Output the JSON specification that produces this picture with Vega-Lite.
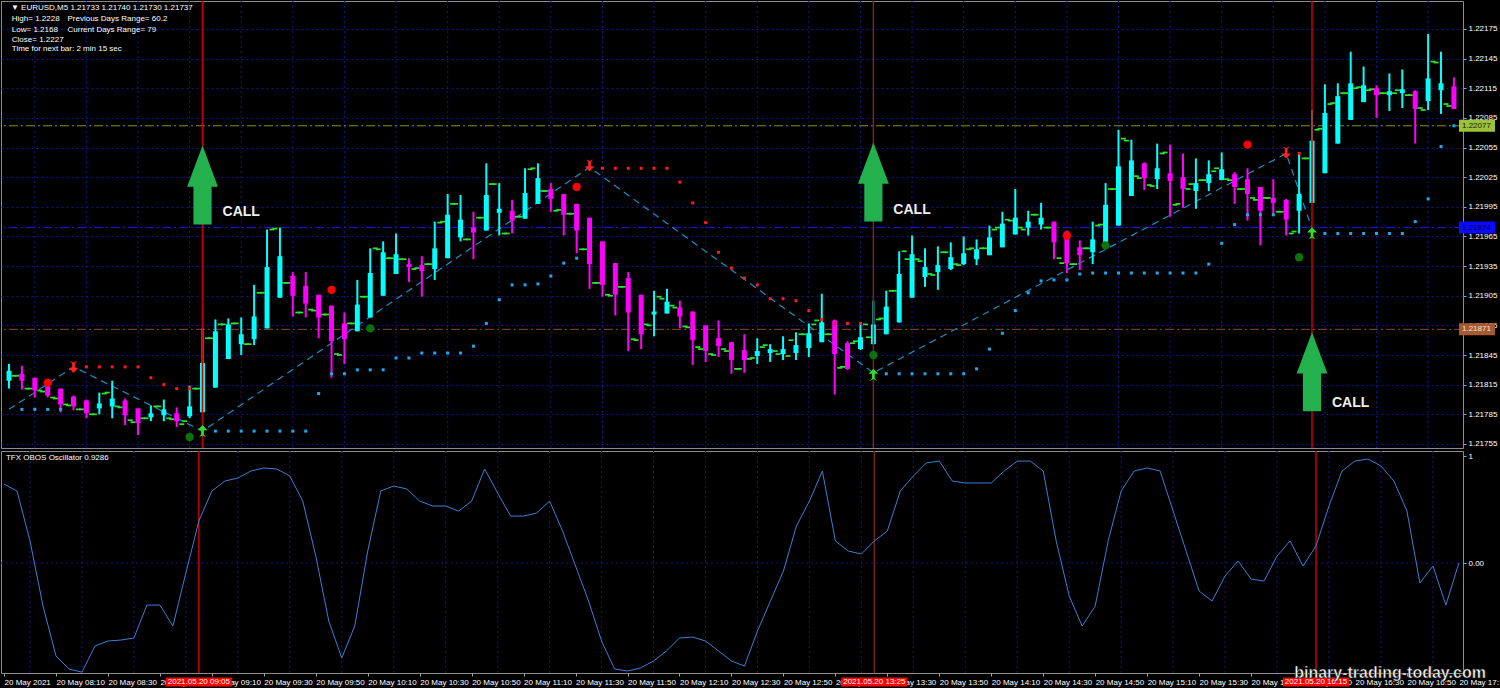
{
"$schema":"https://vega.github.io/schema/vega-lite/v6.json",
"background":"#000000","padding":0,"spacing":3,"bounds":"flush",
"config":{"view":{"stroke":"#8c8c8c","strokeWidth":1},"text":{"font":"Liberation Sans"}},
"datasets":{
"bars":[
{"t":"2021-05-20T07:50Z","o":1.21819,"h":1.21836,"l":1.21811,"c":1.21829,"v":0.738,"b":1.21824},
{"t":"2021-05-20T07:55Z","o":1.21826,"h":1.21834,"l":1.21810,"c":1.21819,"v":0.673,"cs":1.21790,"a":1.21824,"b":1.21811},
{"t":"2021-05-20T08:00Z","o":1.21822,"h":1.21822,"l":1.21802,"c":1.21809,"v":0.206,"cs":1.21790,"a":1.21811,"b":1.21809},
{"t":"2021-05-20T08:05Z","o":1.21814,"h":1.21819,"l":1.21802,"c":1.21804,"v":-0.402,"cs":1.21790,"a":1.21808,"b":1.21802},
{"t":"2021-05-20T08:10Z","o":1.21811,"h":1.21811,"l":1.21787,"c":1.21795,"v":-0.869,"cs":1.21790,"a":1.21801,"b":1.21795},
{"t":"2021-05-20T08:15Z","o":1.21803,"h":1.21804,"l":1.21789,"c":1.21793,"v":-0.991,"a":1.21794,"b":1.21790},
{"t":"2021-05-20T08:20Z","o":1.21799,"h":1.21800,"l":1.21781,"c":1.21786,"v":-1.02,"rs":1.21833,"a":1.21790,"b":1.21785},
{"t":"2021-05-20T08:25Z","o":1.21791,"h":1.21807,"l":1.21785,"c":1.21796,"v":-0.776,"rs":1.21833,"a":1.21785,"b":1.21806},
{"t":"2021-05-20T08:30Z","o":1.21793,"h":1.21819,"l":1.21781,"c":1.21801,"v":-0.729,"rs":1.21833,"a":1.21807,"b":1.21793},
{"t":"2021-05-20T08:35Z","o":1.21799,"h":1.21801,"l":1.21774,"c":1.21784,"v":-0.720,"rs":1.21833,"a":1.21792,"b":1.21779},
{"t":"2021-05-20T08:40Z","o":1.21791,"h":1.21791,"l":1.21764,"c":1.21776,"v":-0.701,"rs":1.21833,"a":1.21777,"b":1.21781},
{"t":"2021-05-20T08:45Z","o":1.21782,"h":1.21794,"l":1.21778,"c":1.21786,"v":-0.393,"rs":1.21822,"a":1.21781,"b":1.21793},
{"t":"2021-05-20T08:50Z","o":1.21784,"h":1.21800,"l":1.21778,"c":1.21790,"v":-0.393,"rs":1.21815,"a":1.21793,"b":1.21781},
{"t":"2021-05-20T08:55Z","o":1.21786,"h":1.21792,"l":1.21772,"c":1.21778,"v":-0.589,"rs":1.21811,"a":1.21780,"b":1.21775},
{"t":"2021-05-20T09:00Z","o":1.21783,"h":1.21814,"l":1.21781,"c":1.21793,"v":-0.093,"rs":1.21811,"a":1.21778,"b":1.21811},
{"t":"2021-05-20T09:05Z","o":1.21787,"h":1.21872,"l":1.21787,"c":1.21837,"v":0.393,"a":1.21811,"b":1.21862},
{"t":"2021-05-20T09:10Z","o":1.21812,"h":1.21881,"l":1.21812,"c":1.21869,"v":0.673,"cs":1.21768,"a":1.21862,"b":1.21876},
{"t":"2021-05-20T09:15Z","o":1.21841,"h":1.21882,"l":1.21841,"c":1.21876,"v":0.766,"cs":1.21768,"a":1.21876,"b":1.21877},
{"t":"2021-05-20T09:20Z","o":1.21856,"h":1.21883,"l":1.21845,"c":1.21866,"v":0.794,"cs":1.21768,"a":1.21877,"b":1.21856},
{"t":"2021-05-20T09:25Z","o":1.21861,"h":1.21916,"l":1.21855,"c":1.21884,"v":0.860,"cs":1.21768,"a":1.21856,"b":1.21908},
{"t":"2021-05-20T09:30Z","o":1.21872,"h":1.21972,"l":1.21872,"c":1.21934,"v":0.888,"cs":1.21768,"a":1.21908,"b":1.21972},
{"t":"2021-05-20T09:35Z","o":1.21903,"h":1.21974,"l":1.21903,"c":1.21945,"v":0.879,"cs":1.21768,"a":1.21973,"b":1.21918},
{"t":"2021-05-20T09:40Z","o":1.21925,"h":1.21929,"l":1.21884,"c":1.21905,"v":0.813,"cs":1.21768,"a":1.21918,"b":1.21888},
{"t":"2021-05-20T09:45Z","o":1.21915,"h":1.21929,"l":1.21883,"c":1.21897,"v":0.579,"cs":1.21768,"a":1.21888,"b":1.21891},
{"t":"2021-05-20T09:50Z","o":1.21906,"h":1.21906,"l":1.21862,"c":1.21883,"v":0.065,"cs":1.21806,"a":1.21890,"b":1.21886},
{"t":"2021-05-20T09:55Z","o":1.21895,"h":1.21895,"l":1.21822,"c":1.21859,"v":-0.542,"cs":1.21826,"a":1.21886,"b":1.21846},
{"t":"2021-05-20T10:00Z","o":1.21877,"h":1.21888,"l":1.21836,"c":1.21861,"v":-0.888,"cs":1.21826,"a":1.21845,"b":1.21877},
{"t":"2021-05-20T10:05Z","o":1.21869,"h":1.21921,"l":1.21869,"c":1.21896,"v":-0.589,"cs":1.21830,"a":1.21877,"b":1.21904},
{"t":"2021-05-20T10:10Z","o":1.21883,"h":1.21953,"l":1.21883,"c":1.21928,"v":0.112,"cs":1.21830,"a":1.21904,"b":1.21953},
{"t":"2021-05-20T10:15Z","o":1.21905,"h":1.21960,"l":1.21905,"c":1.21949,"v":0.673,"cs":1.21830,"a":1.21952,"b":1.21943},
{"t":"2021-05-20T10:20Z","o":1.21927,"h":1.21968,"l":1.21927,"c":1.21947,"v":0.720,"cs":1.21842,"a":1.21943,"b":1.21942},
{"t":"2021-05-20T10:25Z","o":1.21937,"h":1.21943,"l":1.21919,"c":1.21934,"v":0.692,"cs":1.21842,"a":1.21942,"b":1.21932},
{"t":"2021-05-20T10:30Z","o":1.21936,"h":1.21945,"l":1.21904,"c":1.21930,"v":0.579,"cs":1.21847,"a":1.21933,"b":1.21937},
{"t":"2021-05-20T10:35Z","o":1.21932,"h":1.21980,"l":1.21921,"c":1.21953,"v":0.533,"cs":1.21847,"a":1.21937,"b":1.21979},
{"t":"2021-05-20T10:40Z","o":1.21943,"h":1.22008,"l":1.21943,"c":1.21987,"v":0.533,"cs":1.21847,"a":1.21980,"b":1.21998},
{"t":"2021-05-20T10:45Z","o":1.21964,"h":1.22007,"l":1.21960,"c":1.21982,"v":0.486,"cs":1.21847,"a":1.21998,"b":1.21962},
{"t":"2021-05-20T10:50Z","o":1.21974,"h":1.21990,"l":1.21942,"c":1.21969,"v":0.579,"cs":1.21854,"a":1.21962,"b":1.21984},
{"t":"2021-05-20T10:55Z","o":1.21971,"h":1.22039,"l":1.21971,"c":1.22007,"v":0.879,"cs":1.21877,"a":1.21984,"b":1.22018},
{"t":"2021-05-20T11:00Z","o":1.21989,"h":1.22019,"l":1.21966,"c":1.21993,"v":0.654,"cs":1.21901,"a":1.22018,"b":1.21968},
{"t":"2021-05-20T11:05Z","o":1.21991,"h":1.22002,"l":1.21968,"c":1.21981,"v":0.439,"cs":1.21916,"a":1.21968,"b":1.21985},
{"t":"2021-05-20T11:10Z","o":1.21983,"h":1.22034,"l":1.21983,"c":1.22009,"v":0.439,"cs":1.21916,"a":1.21985,"b":1.22033},
{"t":"2021-05-20T11:15Z","o":1.21998,"h":1.22039,"l":1.21998,"c":1.22024,"v":0.467,"cs":1.21917,"a":1.22034,"b":1.22011},
{"t":"2021-05-20T11:20Z","o":1.22013,"h":1.22019,"l":1.21990,"c":1.22003,"v":0.579,"cs":1.21925,"a":1.22011,"b":1.21991},
{"t":"2021-05-20T11:25Z","o":1.22008,"h":1.22008,"l":1.21966,"c":1.21987,"v":0.299,"cs":1.21938,"a":1.21992,"b":1.21988},
{"t":"2021-05-20T11:30Z","o":1.21998,"h":1.21998,"l":1.21948,"c":1.21971,"v":-0.028,"cs":1.21943,"a":1.21988,"b":1.21952},
{"t":"2021-05-20T11:35Z","o":1.21984,"h":1.21984,"l":1.21912,"c":1.21937,"v":-0.355,"a":1.21952,"b":1.21918},
{"t":"2021-05-20T11:40Z","o":1.21960,"h":1.21960,"l":1.21904,"c":1.21916,"v":-0.729,"rs":1.22034,"a":1.21918,"b":1.21906},
{"t":"2021-05-20T11:45Z","o":1.21938,"h":1.21938,"l":1.21885,"c":1.21906,"v":-0.991,"rs":1.22034,"a":1.21905,"b":1.21914},
{"t":"2021-05-20T11:50Z","o":1.21923,"h":1.21929,"l":1.21849,"c":1.21888,"v":-1.009,"rs":1.22034,"a":1.21914,"b":1.21861},
{"t":"2021-05-20T11:55Z","o":1.21906,"h":1.21906,"l":1.21851,"c":1.21866,"v":-0.981,"rs":1.22034,"a":1.21860,"b":1.21876},
{"t":"2021-05-20T12:00Z","o":1.21886,"h":1.21910,"l":1.21864,"c":1.21889,"v":-0.916,"rs":1.22034,"a":1.21875,"b":1.21904},
{"t":"2021-05-20T12:05Z","o":1.21887,"h":1.21912,"l":1.21887,"c":1.21899,"v":-0.822,"rs":1.22034,"a":1.21902,"b":1.21895},
{"t":"2021-05-20T12:10Z","o":1.21893,"h":1.21900,"l":1.21872,"c":1.21884,"v":-0.701,"rs":1.22020,"a":1.21893,"b":1.21874},
{"t":"2021-05-20T12:15Z","o":1.21889,"h":1.21889,"l":1.21835,"c":1.21860,"v":-0.692,"rs":1.21999,"a":1.21873,"b":1.21853},
{"t":"2021-05-20T12:20Z","o":1.21875,"h":1.21875,"l":1.21838,"c":1.21849,"v":-0.729,"rs":1.21979,"a":1.21851,"b":1.21846},
{"t":"2021-05-20T12:25Z","o":1.21862,"h":1.21880,"l":1.21843,"c":1.21854,"v":-0.822,"rs":1.21949,"a":1.21845,"b":1.21851},
{"t":"2021-05-20T12:30Z","o":1.21858,"h":1.21858,"l":1.21826,"c":1.21840,"v":-0.916,"rs":1.21933,"a":1.21849,"b":1.21831},
{"t":"2021-05-20T12:35Z","o":1.21850,"h":1.21866,"l":1.21827,"c":1.21840,"v":-0.963,"rs":1.21923,"a":1.21831,"b":1.21841},
{"t":"2021-05-20T12:40Z","o":1.21844,"h":1.21862,"l":1.21836,"c":1.21849,"v":-0.636,"rs":1.21916,"a":1.21842,"b":1.21853},
{"t":"2021-05-20T12:45Z","o":1.21847,"h":1.21856,"l":1.21838,"c":1.21851,"v":-0.355,"rs":1.21902,"a":1.21855,"b":1.21849},
{"t":"2021-05-20T12:50Z","o":1.21846,"h":1.21864,"l":1.21840,"c":1.21851,"v":-0.075,"rs":1.21902,"a":1.21846,"b":1.21844},
{"t":"2021-05-20T12:55Z","o":1.21847,"h":1.21868,"l":1.21840,"c":1.21855,"v":0.346,"rs":1.21900,"a":1.21860,"b":1.21866},
{"t":"2021-05-20T13:00Z","o":1.21852,"h":1.21877,"l":1.21843,"c":1.21867,"v":0.579,"rs":1.21890,"a":1.21866,"b":1.21876},
{"t":"2021-05-20T13:05Z","o":1.21858,"h":1.21907,"l":1.21858,"c":1.21878,"v":0.860,"rs":1.21881,"a":1.21880,"b":1.21866},
{"t":"2021-05-20T13:10Z","o":1.21880,"h":1.21881,"l":1.21805,"c":1.21846,"v":0.206,"rs":1.21877,"a":1.21866,"b":1.21832},
{"t":"2021-05-20T13:15Z","o":1.21857,"h":1.21859,"l":1.21830,"c":1.21831,"v":0.112,"rs":1.21877,"a":1.21833,"b":1.21857},
{"t":"2021-05-20T13:20Z","o":1.21851,"h":1.21878,"l":1.21850,"c":1.21863,"v":0.084,"rs":1.21877,"a":1.21859,"b":1.21876},
{"t":"2021-05-20T13:25Z","o":1.21856,"h":1.21900,"l":1.21856,"c":1.21876,"v":0.206,"a":1.21863,"b":1.21881},
{"t":"2021-05-20T13:30Z","o":1.21866,"h":1.21910,"l":1.21866,"c":1.21894,"v":0.299,"cs":1.21826,"a":1.21882,"b":1.21910},
{"t":"2021-05-20T13:35Z","o":1.21878,"h":1.21950,"l":1.21878,"c":1.21927,"v":0.673,"cs":1.21826,"a":1.21910,"b":1.21950},
{"t":"2021-05-20T13:40Z","o":1.21903,"h":1.21966,"l":1.21903,"c":1.21947,"v":0.813,"cs":1.21826,"a":1.21942,"b":1.21942},
{"t":"2021-05-20T13:45Z","o":1.21924,"h":1.21953,"l":1.21914,"c":1.21934,"v":0.935,"cs":1.21826,"a":1.21940,"b":1.21927},
{"t":"2021-05-20T13:50Z","o":1.21929,"h":1.21955,"l":1.21911,"c":1.21936,"v":0.953,"cs":1.21826,"a":1.21926,"b":1.21949},
{"t":"2021-05-20T13:55Z","o":1.21932,"h":1.21959,"l":1.21931,"c":1.21944,"v":0.766,"cs":1.21826,"a":1.21949,"b":1.21937},
{"t":"2021-05-20T14:00Z","o":1.21937,"h":1.21965,"l":1.21936,"c":1.21948,"v":0.748,"cs":1.21826,"a":1.21936,"b":1.21952},
{"t":"2021-05-20T14:05Z","o":1.21942,"h":1.21962,"l":1.21936,"c":1.21952,"v":0.748,"cs":1.21831,"a":1.21953,"b":1.21953},
{"t":"2021-05-20T14:10Z","o":1.21946,"h":1.21976,"l":1.21946,"c":1.21964,"v":0.748,"cs":1.21851,"a":1.21953,"b":1.21972},
{"t":"2021-05-20T14:15Z","o":1.21954,"h":1.21990,"l":1.21954,"c":1.21978,"v":0.860,"cs":1.21867,"a":1.21974,"b":1.21982},
{"t":"2021-05-20T14:20Z","o":1.21967,"h":1.22013,"l":1.21967,"c":1.21984,"v":0.953,"cs":1.21890,"a":1.21981,"b":1.21974},
{"t":"2021-05-20T14:25Z","o":1.21974,"h":1.21991,"l":1.21966,"c":1.21980,"v":0.953,"cs":1.21908,"a":1.21972,"b":1.21987},
{"t":"2021-05-20T14:30Z","o":1.21977,"h":1.21999,"l":1.21972,"c":1.21984,"v":0.860,"cs":1.21920,"a":1.21987,"b":1.21974},
{"t":"2021-05-20T14:35Z","o":1.21980,"h":1.21980,"l":1.21942,"c":1.21959,"v":0.206,"cs":1.21921,"a":1.21974,"b":1.21943},
{"t":"2021-05-20T14:40Z","o":1.21970,"h":1.21971,"l":1.21928,"c":1.21938,"v":-0.308,"cs":1.21921,"a":1.21938,"b":1.21937},
{"t":"2021-05-20T14:45Z","o":1.21954,"h":1.21961,"l":1.21931,"c":1.21946,"v":-0.589,"cs":1.21927,"a":1.21937,"b":1.21953},
{"t":"2021-05-20T14:50Z","o":1.21949,"h":1.21980,"l":1.21937,"c":1.21962,"v":-0.402,"cs":1.21928,"a":1.21953,"b":1.21976},
{"t":"2021-05-20T14:55Z","o":1.21959,"h":1.22019,"l":1.21959,"c":1.21997,"v":0.206,"cs":1.21928,"a":1.21977,"b":1.22013},
{"t":"2021-05-20T15:00Z","o":1.21976,"h":1.22073,"l":1.21976,"c":1.22036,"v":0.673,"cs":1.21928,"a":1.22013,"b":1.22064},
{"t":"2021-05-20T15:05Z","o":1.22006,"h":1.22063,"l":1.22006,"c":1.22042,"v":0.860,"cs":1.21928,"a":1.22062,"b":1.22026},
{"t":"2021-05-20T15:10Z","o":1.22039,"h":1.22040,"l":1.22012,"c":1.22024,"v":0.888,"cs":1.21928,"a":1.22024,"b":1.22017},
{"t":"2021-05-20T15:15Z","o":1.22023,"h":1.22059,"l":1.22013,"c":1.22034,"v":0.860,"cs":1.21928,"a":1.22016,"b":1.22049},
{"t":"2021-05-20T15:20Z","o":1.22029,"h":1.22058,"l":1.21985,"c":1.22021,"v":0.486,"cs":1.21928,"a":1.22050,"b":1.21997},
{"t":"2021-05-20T15:25Z","o":1.22025,"h":1.22049,"l":1.21994,"c":1.22013,"v":0.112,"cs":1.21928,"a":1.21998,"b":1.22013},
{"t":"2021-05-20T15:30Z","o":1.22011,"h":1.22044,"l":1.21993,"c":1.22019,"v":-0.262,"cs":1.21928,"a":1.22018,"b":1.22022},
{"t":"2021-05-20T15:35Z","o":1.22019,"h":1.22042,"l":1.22011,"c":1.22028,"v":-0.355,"cs":1.21937,"a":1.22022,"b":1.22031},
{"t":"2021-05-20T15:40Z","o":1.22022,"h":1.22050,"l":1.22022,"c":1.22033,"v":-0.121,"cs":1.21958,"a":1.22034,"b":1.22023},
{"t":"2021-05-20T15:45Z","o":1.22028,"h":1.22030,"l":1.21998,"c":1.22015,"v":0.019,"cs":1.21977,"a":1.22022,"b":1.22013},
{"t":"2021-05-20T15:50Z","o":1.22023,"h":1.22034,"l":1.21981,"c":1.22008,"v":-0.150,"cs":1.21987,"a":1.22013,"b":1.22004},
{"t":"2021-05-20T15:55Z","o":1.22015,"h":1.22015,"l":1.21956,"c":1.21991,"v":-0.168,"cs":1.21987,"a":1.22002,"b":1.22004},
{"t":"2021-05-20T16:00Z","o":1.22004,"h":1.22023,"l":1.21988,"c":1.21999,"v":0.065,"cs":1.21987,"a":1.22004,"b":1.21990},
{"t":"2021-05-20T16:05Z","o":1.22002,"h":1.22003,"l":1.21966,"c":1.21982,"v":0.206,"a":1.21990,"b":1.21968},
{"t":"2021-05-20T16:10Z","o":1.21991,"h":1.22049,"l":1.21968,"c":1.22008,"v":-0.028,"rs":1.22049,"a":1.21970,"b":1.22044},
{"t":"2021-05-20T16:15Z","o":1.21999,"h":1.22093,"l":1.21999,"c":1.22062,"v":0.159,"a":1.22044,"b":1.22073},
{"t":"2021-05-20T16:20Z","o":1.22029,"h":1.22119,"l":1.22029,"c":1.22090,"v":0.533,"cs":1.21968,"a":1.22074,"b":1.22099},
{"t":"2021-05-20T16:25Z","o":1.22059,"h":1.22120,"l":1.22059,"c":1.22107,"v":0.860,"cs":1.21968,"a":1.22100,"b":1.22110},
{"t":"2021-05-20T16:30Z","o":1.22083,"h":1.22152,"l":1.22083,"c":1.22120,"v":0.953,"cs":1.21968,"a":1.22110,"b":1.22115},
{"t":"2021-05-20T16:35Z","o":1.22101,"h":1.22137,"l":1.22101,"c":1.22118,"v":0.972,"cs":1.21968,"a":1.22116,"b":1.22113},
{"t":"2021-05-20T16:40Z","o":1.22115,"h":1.22118,"l":1.22085,"c":1.22108,"v":0.907,"cs":1.21968,"a":1.22114,"b":1.22110},
{"t":"2021-05-20T16:45Z","o":1.22108,"h":1.22130,"l":1.22092,"c":1.22112,"v":0.766,"cs":1.21968,"a":1.22110,"b":1.22110},
{"t":"2021-05-20T16:50Z","o":1.22110,"h":1.22134,"l":1.22095,"c":1.22114,"v":0.486,"cs":1.21968,"a":1.22113,"b":1.22108},
{"t":"2021-05-20T16:55Z","o":1.22112,"h":1.22113,"l":1.22059,"c":1.22094,"v":-0.187,"cs":1.21980,"a":1.22108,"b":1.22095},
{"t":"2021-05-20T17:00Z","o":1.22102,"h":1.22170,"l":1.22093,"c":1.22125,"v":-0.028,"cs":1.22003,"a":1.22093,"b":1.22142},
{"t":"2021-05-20T17:05Z","o":1.22113,"h":1.22152,"l":1.22089,"c":1.22120,"v":-0.393,"cs":1.22056,"a":1.22141,"b":1.22099},
{"t":"2021-05-20T17:10Z","o":1.22117,"h":1.22126,"l":1.22094,"c":1.22094,"v":0.0,"cs":1.22077,"a":1.22097}
],
"grid":[{"t":"2021-05-20T08:00Z"},{"t":"2021-05-20T08:20Z"},{"t":"2021-05-20T08:40Z"},{"t":"2021-05-20T09:00Z"},{"t":"2021-05-20T09:20Z"},{"t":"2021-05-20T09:40Z"},{"t":"2021-05-20T10:00Z"},{"t":"2021-05-20T10:20Z"},{"t":"2021-05-20T10:40Z"},{"t":"2021-05-20T11:00Z"},{"t":"2021-05-20T11:20Z"},{"t":"2021-05-20T11:40Z"},{"t":"2021-05-20T12:00Z"},{"t":"2021-05-20T12:20Z"},{"t":"2021-05-20T12:40Z"},{"t":"2021-05-20T13:00Z"},{"t":"2021-05-20T13:20Z"},{"t":"2021-05-20T13:40Z"},{"t":"2021-05-20T14:00Z"},{"t":"2021-05-20T14:20Z"},{"t":"2021-05-20T14:40Z"},{"t":"2021-05-20T15:00Z"},{"t":"2021-05-20T15:20Z"},{"t":"2021-05-20T15:40Z"},{"t":"2021-05-20T16:00Z"},{"t":"2021-05-20T16:20Z"},{"t":"2021-05-20T16:40Z"},{"t":"2021-05-20T17:00Z"}],
"vlines":[{"t":"2021-05-20T09:05Z","k":"r","lab":"2021.05.20 09:05"},{"t":"2021-05-20T13:25Z","k":"d","lab":"2021.05.20 13:25"},{"t":"2021-05-20T16:15Z","k":"r","lab":"2021.05.20 16:15"}],
"zig":[{"t":"2021-05-20T07:50Z","p":1.21790},{"t":"2021-05-20T08:15Z","p":1.21833},{"t":"2021-05-20T09:05Z","p":1.21768},{"t":"2021-05-20T11:35Z","p":1.22035},{"t":"2021-05-20T13:25Z","p":1.21827},{"t":"2021-05-20T16:05Z","p":1.22049},{"t":"2021-05-20T16:15Z","p":1.21973}],
"sig":[
{"t":"2021-05-20T08:05Z","p":1.21817,"k":"R"},{"t":"2021-05-20T09:55Z","p":1.21911,"k":"R"},{"t":"2021-05-20T11:30Z","p":1.22015,"k":"R"},{"t":"2021-05-20T14:40Z","p":1.21966,"k":"R"},{"t":"2021-05-20T15:50Z","p":1.22058,"k":"R"},
{"t":"2021-05-20T09:00Z","p":1.21762,"k":"G"},{"t":"2021-05-20T10:10Z","p":1.21872,"k":"G"},{"t":"2021-05-20T13:25Z","p":1.21845,"k":"G"},{"t":"2021-05-20T14:55Z","p":1.21956,"k":"G"},{"t":"2021-05-20T16:10Z","p":1.21944,"k":"G"},
{"t":"2021-05-20T08:15Z","p":1.21833,"k":"D"},{"t":"2021-05-20T11:35Z","p":1.22037,"k":"D"},{"t":"2021-05-20T16:05Z","p":1.22050,"k":"D"},
{"t":"2021-05-20T09:05Z","p":1.21768,"k":"U"},{"t":"2021-05-20T13:25Z","p":1.21825,"k":"U"},{"t":"2021-05-20T16:15Z","p":1.21968,"k":"U"},
{"t":"2021-05-20T09:05Z","p":1.22017,"k":"A"},{"t":"2021-05-20T13:25Z","p":1.22020,"k":"A"},{"t":"2021-05-20T16:15Z","p":1.21828,"k":"A"}],
"calls":[{"t":"2021-05-20T09:05Z","p":1.21990,"txt":"CALL"},{"t":"2021-05-20T13:25Z","p":1.21992,"txt":"CALL"},{"t":"2021-05-20T16:15Z","p":1.21796,"txt":"CALL"}],
"head":[
{"t":"2021-05-20T07:50:45Z","p":1.221963,"txt":"▼  EURUSD,M5  1.21733 1.21740 1.21730 1.21737"},
{"t":"2021-05-20T07:51:05Z","p":1.221851,"txt":"High= 1.2228"},
{"t":"2021-05-20T08:12:40Z","p":1.221851,"txt":"Previous Days Range= 60.2"},
{"t":"2021-05-20T07:51:05Z","p":1.22174,"txt":"Low= 1.2168"},
{"t":"2021-05-20T08:12:40Z","p":1.22174,"txt":"Current Days Range= 79"},
{"t":"2021-05-20T07:51:05Z","p":1.221639,"txt":"Close= 1.2227"},
{"t":"2021-05-20T07:51:05Z","p":1.221548,"txt":"Time for next bar: 2 min 15 sec"}],
"levels":[{"t":"2021-05-20T17:11:35Z","p":1.22077,"k":"a","txt":"1.22077"},{"t":"2021-05-20T17:11:35Z","p":1.21974,"k":"b","txt":"1.21974"},{"t":"2021-05-20T17:11:35Z","p":1.21871,"k":"c","txt":"1.21871"}],
"notes":[{"t":"2021-05-20T07:50:45Z","v":0.981,"txt":"TFX OBOS Oscillator 0.9286"}],
"mark":[{"t":"2021-05-20T16:43:30Z","v":-1.03,"txt":"binary-trading-today.com"}]
},
"vconcat":[
{
"width":1462,"height":447,
"layer":[
{"data":{"name":"grid"},"mark":{"type":"rule","color":"#16168a","strokeDash":[2,3],"strokeWidth":1,"clip":true},
 "encoding":{"x":{"field":"t","type":"temporal","scale":{"type":"utc","domain":[1621496930000,1621530695000]},"axis":null}}},
{"data":{"name":"levels"},"mark":{"type":"rule","strokeDash":[9,3,2,3],"strokeWidth":1,"clip":true},
 "encoding":{"y":{"field":"p","type":"quantitative","scale":{"domain":[1.217509,1.222033],"zero":false,"nice":false},
   "axis":{"orient":"right","values":[1.21755,1.21785,1.21815,1.21845,1.21875,1.21905,1.21935,1.21965,1.21995,1.22025,1.22055,1.22085,1.22115,1.22145,1.22175],"tickCount":30,"format":".5f","grid":true,"gridColor":"#16168a","gridDash":[2,3],"labelColor":"#ffffff","labelFont":"Liberation Sans","labelFontSize":8,"tickColor":"#a0a0a0","tickSize":3,"labelPadding":2,"domain":false,"title":null,"labelOverlap":false,"labelFlush":false}},
  "color":{"condition":[{"test":"datum.k == 'a'","value":"#8e8e10"},{"test":"datum.k == 'b'","value":"#1414ff"}],"value":"#8b4a2b"}}},
{"data":{"name":"zig"},"mark":{"type":"line","color":"#1b8fc4","strokeDash":[7,5],"strokeWidth":1.2},
 "encoding":{"x":{"field":"t","type":"temporal","scale":{"type":"utc","domain":[1621496930000,1621530695000]},"axis":null},
  "y":{"field":"p","type":"quantitative","scale":{"domain":[1.217509,1.222033],"zero":false,"nice":false}}}},
{"data":{"name":"bars"},"mark":{"type":"point","filled":true,"size":25,"opacity":1,"color":"#2fe02f","xOffset":-5,"shape":"M-1,-0.35L1,-0.35L1,0.35L-1,0.35Z"},
 "encoding":{"x":{"field":"t","type":"temporal","scale":{"type":"utc","domain":[1621496930000,1621530695000]},"axis":null},
  "y":{"field":"a","type":"quantitative","scale":{"domain":[1.217509,1.222033],"zero":false,"nice":false}}}},
{"data":{"name":"bars"},"mark":{"type":"point","filled":true,"size":25,"opacity":1,"color":"#2fe02f","xOffset":5,"shape":"M-1,-0.35L1,-0.35L1,0.35L-1,0.35Z"},
 "encoding":{"x":{"field":"t","type":"temporal","scale":{"type":"utc","domain":[1621496930000,1621530695000]},"axis":null},
  "y":{"field":"b","type":"quantitative","scale":{"domain":[1.217509,1.222033],"zero":false,"nice":false}}}},
{"data":{"name":"bars"},"mark":{"type":"rule","strokeWidth":2},
 "encoding":{"x":{"field":"t","type":"temporal","scale":{"type":"utc","domain":[1621496930000,1621530695000]},"axis":null},
  "y":{"field":"l","type":"quantitative","scale":{"domain":[1.217509,1.222033],"zero":false,"nice":false}},
  "y2":{"field":"h"},
  "color":{"condition":{"test":"datum.c >= datum.o","value":"#00ffff"},"value":"#ff00ff"}}},
{"data":{"name":"bars"},"mark":{"type":"bar","width":5},
 "encoding":{"x":{"field":"t","type":"temporal","scale":{"type":"utc","domain":[1621496930000,1621530695000]},"axis":null},
  "y":{"field":"o","type":"quantitative","scale":{"domain":[1.217509,1.222033],"zero":false,"nice":false}},
  "y2":{"field":"c"},
  "color":{"condition":{"test":"datum.c >= datum.o","value":"#00ffff"},"value":"#ff00ff"}}},
{"data":{"name":"vlines"},"mark":{"type":"rule","strokeWidth":1.5,"clip":true},
 "encoding":{"x":{"field":"t","type":"temporal","scale":{"type":"utc","domain":[1621496930000,1621530695000]},"axis":null},
  "color":{"condition":{"test":"datum.k == 'd'","value":"#7a2222"},"value":"#cc0000"}}},
{"data":{"name":"bars"},"mark":{"type":"point","filled":true,"shape":"square","size":9,"color":"#ff1a1a","opacity":1},
 "encoding":{"x":{"field":"t","type":"temporal","scale":{"type":"utc","domain":[1621496930000,1621530695000]},"axis":null},
  "y":{"field":"rs","type":"quantitative","scale":{"domain":[1.217509,1.222033],"zero":false,"nice":false}}}},
{"data":{"name":"bars"},"mark":{"type":"point","filled":true,"shape":"square","size":9,"color":"#1ea8f0","opacity":1},
 "encoding":{"x":{"field":"t","type":"temporal","scale":{"type":"utc","domain":[1621496930000,1621530695000]},"axis":null},
  "y":{"field":"cs","type":"quantitative","scale":{"domain":[1.217509,1.222033],"zero":false,"nice":false}}}},
{"data":{"name":"sig"},"transform":[{"filter":"datum.k == 'R' || datum.k == 'G'"}],"mark":{"type":"point","filled":true,"size":70,"opacity":1},
 "encoding":{"x":{"field":"t","type":"temporal","scale":{"type":"utc","domain":[1621496930000,1621530695000]},"axis":null},
  "y":{"field":"p","type":"quantitative","scale":{"domain":[1.217509,1.222033],"zero":false,"nice":false}},
  "color":{"condition":{"test":"datum.k == 'R'","value":"#ff0000"},"value":"#0b730b"}}},
{"data":{"name":"sig"},"transform":[{"filter":"datum.k == 'D'"}],"mark":{"type":"point","filled":true,"size":150,"opacity":1,"color":"#ff2020","shape":"M0,1L-0.8,0.15L-0.22,0.15L-0.22,-0.55L-0.6,-1L0,-0.7L0.6,-1L0.22,-0.55L0.22,0.15L0.8,0.15Z"},
 "encoding":{"x":{"field":"t","type":"temporal","scale":{"type":"utc","domain":[1621496930000,1621530695000]},"axis":null},
  "y":{"field":"p","type":"quantitative","scale":{"domain":[1.217509,1.222033],"zero":false,"nice":false}}}},
{"data":{"name":"sig"},"transform":[{"filter":"datum.k == 'U'"}],"mark":{"type":"point","filled":true,"size":150,"opacity":1,"color":"#33dd22","shape":"M0,-1L-0.8,-0.15L-0.22,-0.15L-0.22,0.55L-0.6,1L0,0.7L0.6,1L0.22,0.55L0.22,-0.15L0.8,-0.15Z"},
 "encoding":{"x":{"field":"t","type":"temporal","scale":{"type":"utc","domain":[1621496930000,1621530695000]},"axis":null},
  "y":{"field":"p","type":"quantitative","scale":{"domain":[1.217509,1.222033],"zero":false,"nice":false}}}},
{"data":{"name":"sig"},"transform":[{"filter":"datum.k == 'A'"}],"mark":{"type":"point","filled":true,"size":6241,"opacity":1,"color":"#22b14c","shape":"M0,-1L0.39,0.04L0.23,0.04L0.23,1L-0.23,1L-0.23,0.04L-0.39,0.04Z"},
 "encoding":{"x":{"field":"t","type":"temporal","scale":{"type":"utc","domain":[1621496930000,1621530695000]},"axis":null},
  "y":{"field":"p","type":"quantitative","scale":{"domain":[1.217509,1.222033],"zero":false,"nice":false}}}},
{"data":{"name":"calls"},"mark":{"type":"text","font":"Liberation Sans","fontWeight":"bold","fontSize":14,"color":"#eeeeee","align":"left","baseline":"middle","dx":20},
 "encoding":{"x":{"field":"t","type":"temporal","scale":{"type":"utc","domain":[1621496930000,1621530695000]},"axis":null},
  "y":{"field":"p","type":"quantitative","scale":{"domain":[1.217509,1.222033],"zero":false,"nice":false}},
  "text":{"field":"txt"}}},
{"data":{"name":"head"},"mark":{"type":"text","font":"Liberation Sans","fontSize":8,"color":"#ffffff","align":"left","baseline":"middle"},
 "encoding":{"x":{"field":"t","type":"temporal","scale":{"type":"utc","domain":[1621496930000,1621530695000]},"axis":null},
  "y":{"field":"p","type":"quantitative","scale":{"domain":[1.217509,1.222033],"zero":false,"nice":false}},
  "text":{"field":"txt"}}},
{"data":{"name":"levels"},"mark":{"type":"rect","xOffset":1,"x2Offset":37,"yOffset":-6,"y2Offset":6},
 "encoding":{"x":{"field":"t","type":"temporal","scale":{"type":"utc","domain":[1621496930000,1621530695000]},"axis":null},"x2":{"field":"t"},
  "y":{"field":"p","type":"quantitative","scale":{"domain":[1.217509,1.222033],"zero":false,"nice":false}},"y2":{"field":"p"},
  "color":{"condition":[{"test":"datum.k == 'a'","value":"#9cc23a"},{"test":"datum.k == 'b'","value":"#0a0aff"}],"value":"#a65a32"}}},
{"data":{"name":"levels"},"mark":{"type":"text","font":"Liberation Sans","fontSize":8,"align":"left","baseline":"middle","dx":4},
 "encoding":{"x":{"field":"t","type":"temporal","scale":{"type":"utc","domain":[1621496930000,1621530695000]},"axis":null},
  "y":{"field":"p","type":"quantitative","scale":{"domain":[1.217509,1.222033],"zero":false,"nice":false}},
  "text":{"field":"txt"},
  "color":{"condition":[{"test":"datum.k == 'a'","value":"#1a1a00"},{"test":"datum.k == 'b'","value":"#000040"}],"value":"#fbe3d3"}}}
]
},
{
"width":1462,"height":222,
"layer":[
{"data":{"name":"grid"},"mark":{"type":"rule","color":"#16168a","strokeDash":[2,3],"strokeWidth":1,"clip":true},
 "encoding":{"x":{"field":"t","type":"temporal","scale":{"type":"utc","domain":[1621496930000,1621530695000]},
   "axis":{"values":[1621497000000,1621498200000,1621499400000,1621500600000,1621501800000,1621503000000,1621504200000,1621505400000,1621506600000,1621507800000,1621509000000,1621510200000,1621511400000,1621512600000,1621513800000,1621515000000,1621516200000,1621517400000,1621518600000,1621519800000,1621521000000,1621522200000,1621523400000,1621524600000,1621525800000,1621527000000,1621528200000,1621529400000,1621530600000],"tickCount":60,
    "format":"%d %b %H:%M","labelExpr":"datum.label == '20 May 07:50' ? '20 May 2021' : datum.label","labelAlign":"left","labelColor":"#ffffff","labelFont":"Liberation Sans","labelFontSize":8,"tickColor":"#a0a0a0","tickSize":3,"labelPadding":2,"domain":false,"grid":false,"title":null,"labelFlush":false,"labelOverlap":false,"labelBound":false}}}},
{"data":{"values":[{"v":0}]},"mark":{"type":"rule","color":"#16168a","strokeDash":[2,3],"strokeWidth":1,"clip":true},
 "encoding":{"y":{"field":"v","type":"quantitative","scale":{"domain":[-1.028,1.047],"zero":false,"nice":false},
   "axis":{"orient":"right","values":[1,0],"labelExpr":"datum.value == 1 ? '1' : '0.00'","labelColor":"#ffffff","labelFont":"Liberation Sans","labelFontSize":8,"tickColor":"#a0a0a0","tickSize":3,"labelPadding":2,"domain":false,"grid":false,"title":null,"labelOverlap":false,"labelFlush":false}}}},
{"data":{"name":"vlines"},"mark":{"type":"rule","strokeWidth":1.5,"clip":true},
 "encoding":{"x":{"field":"t","type":"temporal","scale":{"type":"utc","domain":[1621496930000,1621530695000]}},
  "color":{"condition":{"test":"datum.k == 'd'","value":"#7a2222"},"value":"#cc0000"}}},
{"data":{"name":"bars"},"mark":{"type":"line","color":"#3b7fd6","strokeWidth":1},
 "encoding":{"x":{"field":"t","type":"temporal","scale":{"type":"utc","domain":[1621496930000,1621530695000]}},
  "y":{"field":"v","type":"quantitative","scale":{"domain":[-1.028,1.047],"zero":false,"nice":false}}}},
{"data":{"name":"notes"},"mark":{"type":"text","font":"Liberation Sans","fontSize":8,"color":"#ffffff","align":"left","baseline":"middle"},
 "encoding":{"x":{"field":"t","type":"temporal","scale":{"type":"utc","domain":[1621496930000,1621530695000]}},
  "y":{"field":"v","type":"quantitative","scale":{"domain":[-1.028,1.047],"zero":false,"nice":false}},
  "text":{"field":"txt"}}},
{"data":{"name":"vlines"},"mark":{"type":"rect","color":"#ff0000","xOffset":-33,"x2Offset":33},
 "encoding":{"x":{"field":"t","type":"temporal","scale":{"type":"utc","domain":[1621496930000,1621530695000]}},"x2":{"field":"t"},
  "y":{"datum":-1.07,"type":"quantitative","scale":{"domain":[-1.028,1.047],"zero":false,"nice":false}},"y2":{"datum":-1.155}}},
{"data":{"name":"vlines"},"mark":{"type":"text","font":"Liberation Sans","fontSize":8,"color":"#ffffff","align":"center","baseline":"middle"},
 "encoding":{"x":{"field":"t","type":"temporal","scale":{"type":"utc","domain":[1621496930000,1621530695000]}},
  "y":{"datum":-1.112,"type":"quantitative","scale":{"domain":[-1.028,1.047],"zero":false,"nice":false}},
  "text":{"field":"lab"}}},
{"data":{"name":"mark"},"mark":{"type":"text","font":"Liberation Sans","fontWeight":"bold","fontSize":16,"color":"#ffffff","stroke":"#222222","strokeWidth":0.6,"align":"center","baseline":"middle"},
 "encoding":{"x":{"field":"t","type":"temporal","scale":{"type":"utc","domain":[1621496930000,1621530695000]}},
  "y":{"field":"v","type":"quantitative","scale":{"domain":[-1.028,1.047],"zero":false,"nice":false}},
  "text":{"field":"txt"}}}
]
}
]
}
